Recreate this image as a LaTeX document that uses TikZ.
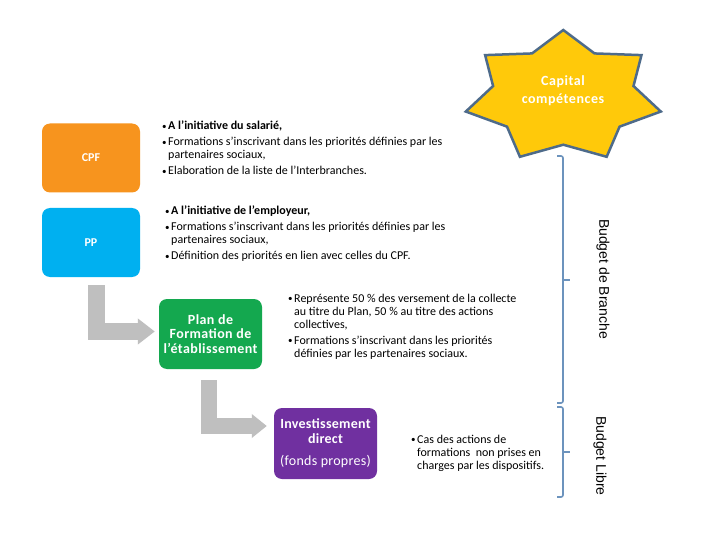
\documentclass[tikz,border=0pt]{standalone}
\usepackage{fontspec}
\setmainfont{Carlito}
\newfontfamily\budgetfont{Liberation Sans}
\usetikzlibrary{arrows.meta,calc}
\definecolor{cOrange}{HTML}{F7941E}
\definecolor{cBlue}{HTML}{00B0F0}
\definecolor{cGreen}{HTML}{14A84F}
\definecolor{cPurple}{HTML}{7030A0}
\definecolor{cGray}{HTML}{BFBFBF}
\definecolor{cStar}{HTML}{FFC90A}
\definecolor{cStarEdge}{HTML}{4E6B8A}
\definecolor{cBrace}{HTML}{6C93BD}
\newcommand{\bul}{\makebox[6pt][l]{\fontsize{9}{9}\selectfont\raisebox{0.6pt}{•}}}
\newcommand{\ind}{\hspace*{6pt}}
\begin{document}
\begin{tikzpicture}[x=1pt,y=-1pt,
  box/.style={rounded corners=8pt, text=white, align=center, inner sep=0pt},
  txt/.style={anchor=north west, inner sep=0pt, align=left, text=black, font=\fontsize{12}{13}\selectfont},
  bent/.style={draw=cGray, line join=miter},
  bracestyle/.style={draw=cBrace, line width=1.6pt, rounded corners=2pt},
  budget/.style={rotate=-90, inner sep=0pt, text=black, font=\budgetfont\fontsize{14}{16}\selectfont},
  starstyle/.style={fill=cStar, draw=cStarEdge, line width=2.5pt, line join=miter}]
\useasboundingbox (0,0) rectangle (720,540);
\fill[white] (0,0) rectangle (720,540);

% star
\begin{scope}[shift={(563.3,96.7)}, xscale=100, yscale=66.7]
\draw[starstyle] (-90:1) \foreach \k in {0,...,6} { -- ({-90+\k*360/7+180/7}:0.72) -- ({-90+(\k+1)*360/7}:1) } -- cycle;
\end{scope}
\node[text=white, align=center, inner sep=0pt, font=\fontsize{14}{18}\selectfont\bfseries\addfontfeatures{LetterSpace=4}] (star) at (563,91) {Capital\\compétences};

% boxes
\node[box, fill=cOrange, minimum width=98pt, minimum height=69pt, font=\fontsize{12}{14}\selectfont\bfseries] (CPF) at (91,158) {CPF};
\node[box, fill=cBlue, minimum width=98pt, minimum height=69pt, font=\fontsize{12}{14}\selectfont\bfseries] (PP) at (91,242.5) {PP};
\node[box, fill=cGreen, minimum width=103pt, minimum height=70pt, font=\fontsize{14}{14.5}\selectfont\bfseries\addfontfeatures{LetterSpace=3}] (Plan) at (210.5,334) {Plan de\\Formation de\\l’établissement};
\node[box, fill=cPurple, minimum width=103pt, minimum height=71pt, font=\fontsize{14}{15}\selectfont\bfseries\addfontfeatures{LetterSpace=2}] (Inv) at (325.5,443.5) {Investissement\\direct\\[7pt]{\mdseries (fonds propres)}};

% bent arrows
\draw[bent, line width=17pt, -{Triangle[width=25pt,length=17pt]}] ($(PP.south)+(5.5,8)$) |- ($(Plan.west)+(-4,-2.5)$);
\draw[bent, line width=16pt, -{Triangle[width=23pt,length=15pt]}] ($(Plan.south)+(-1.5,11)$) |- ($(Inv.west)+(-7,-17.5)$);

% texts
\node[txt] (t1) at (162,121) {\bul\textbf{A l’initiative du salarié,}\\[3pt]\bul Formations s’inscrivant dans les priorités définies par les\\\ind partenaires sociaux,\\[3pt]\bul Elaboration de la liste de l’Interbranches.};
\node[txt] (t2) at (165,206) {\bul\textbf{A l’initiative de l’employeur,}\\[3pt]\bul Formations s’inscrivant dans les priorités définies par les\\\ind partenaires sociaux,\\[3pt]\bul Définition des priorités en lien avec celles du CPF.};
\node[txt] (t3) at (288,294) {\bul Représente 50 \% des versement de la collecte\\\ind au titre du Plan, 50 \% au titre des actions\\\ind collectives,\\[3pt]\bul Formations s’inscrivant dans les priorités\\\ind définies par les partenaires sociaux.};
\node[txt] (t4) at (411,435) {\bul Cas des actions de\\\ind formations~ non prises en\\\ind charges par les dispositifs.};

% braces and labels
\coordinate (b1top) at (557,156);
\coordinate (b1bot) at (557,403);
\coordinate (b1tip) at (570,280);
\coordinate (b2top) at (557,407);
\coordinate (b2bot) at (557,497);
\coordinate (b2tip) at (570,452);
\draw[bracestyle] (b1top) -- ++(6,0) -- ($(b1bot)+(6,0)$) -- (b1bot);
\draw[bracestyle] (b1tip -| b1top) ++(6,0) -- (b1tip);
\draw[bracestyle] (b2top) -- ++(6,0) -- ($(b2bot)+(6,0)$) -- (b2bot);
\draw[bracestyle] (b2tip -| b2top) ++(6,0) -- (b2tip);
\node[budget] (bb) at (603,279) {Budget de Branche};
\node[budget] (bl) at (600,456) {Budget Libre};
\end{tikzpicture}
\end{document}
